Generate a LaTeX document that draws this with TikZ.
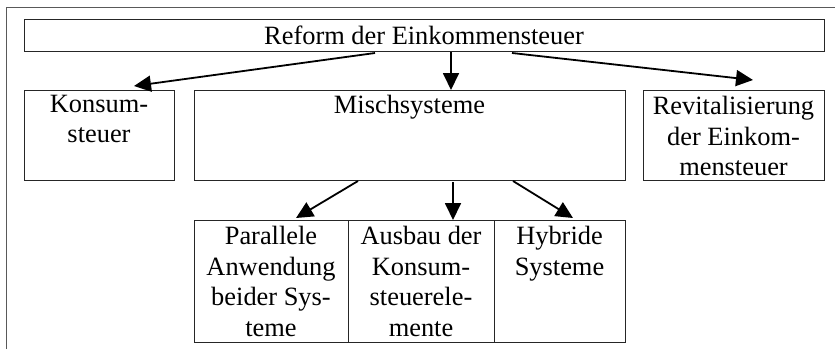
\documentclass[tikz,border=0pt]{standalone}
\usepackage{fontspec}
\setmainfont{Liberation Serif}
\usetikzlibrary{arrows.meta}
\begin{document}
\begin{tikzpicture}[x=1pt,y=-1pt,
  box/.style={draw=black!85,line width=1.1pt,inner sep=0pt,anchor=north west},
  txt/.style={inner sep=0pt,align=center,anchor=north,font=\fontsize{26.4}{30.5}\selectfont},
  arr/.style={line width=1.8pt,-{Triangle[length=17pt,width=16pt]}},
  frame/.style={draw=black!65,line width=1pt}]
\useasboundingbox (0,0) rectangle (835,349);
\draw[frame] (6,349) -- (6,7) -- (835,7);
% boxes
\node[box,minimum width=800pt,minimum height=32pt] (top) at (24,19) {};
\node[box,minimum width=150pt,minimum height=90pt] (kons) at (24,90) {};
\node[box,minimum width=431pt,minimum height=90pt] (misch) at (194,90) {};
\node[box,minimum width=181pt,minimum height=90pt] (revi) at (643,90) {};
\node[box,minimum width=154pt,minimum height=122pt] (para) at (194,220) {};
\node[box,minimum width=146pt,minimum height=122pt] (ausb) at (348,220) {};
\node[box,minimum width=131pt,minimum height=122pt] (hybr) at (494,220) {};
% texts
\node[txt,anchor=base] (ttop) at (424,44) {Reform der Einkommensteuer};
\node[txt] (tkons) at (99,95) {Konsum-\\steuer};
\node[txt] (tmisch) at (409.5,95) {Mischsysteme};
\node[txt] (trevi) at (733.5,96) {Revitalisierung\\der Einkom-\\mensteuer};
\node[txt] (tpara) at (271,226) {Parallele\\Anwendung\\beider Sys-\\teme};
\node[txt] (tausb) at (421,226) {Ausbau der\\Konsum-\\steuerele-\\mente};
\node[txt] (thybr) at (559.5,226) {Hybride\\Systeme};
% connectors
\coordinate (k1) at (375,53);
\coordinate (k2) at (134,86);
\draw[arr] (k1) -- (k2);
\draw[arr] (top.south -| 451,0) -- (misch.north -| 451,0);
\coordinate (r1) at (512,53);
\coordinate (r2) at (753,80);
\draw[arr] (r1) -- (r2);
\coordinate (p1) at (358,181);
\coordinate (p2) at (296,218);
\draw[arr] (p1) -- (p2);
\draw[arr] (453,182) -- (ausb.north -| 453,0);
\coordinate (h1) at (513,181);
\coordinate (h2) at (573,218);
\draw[arr] (h1) -- (h2);
\end{tikzpicture}
\end{document}
